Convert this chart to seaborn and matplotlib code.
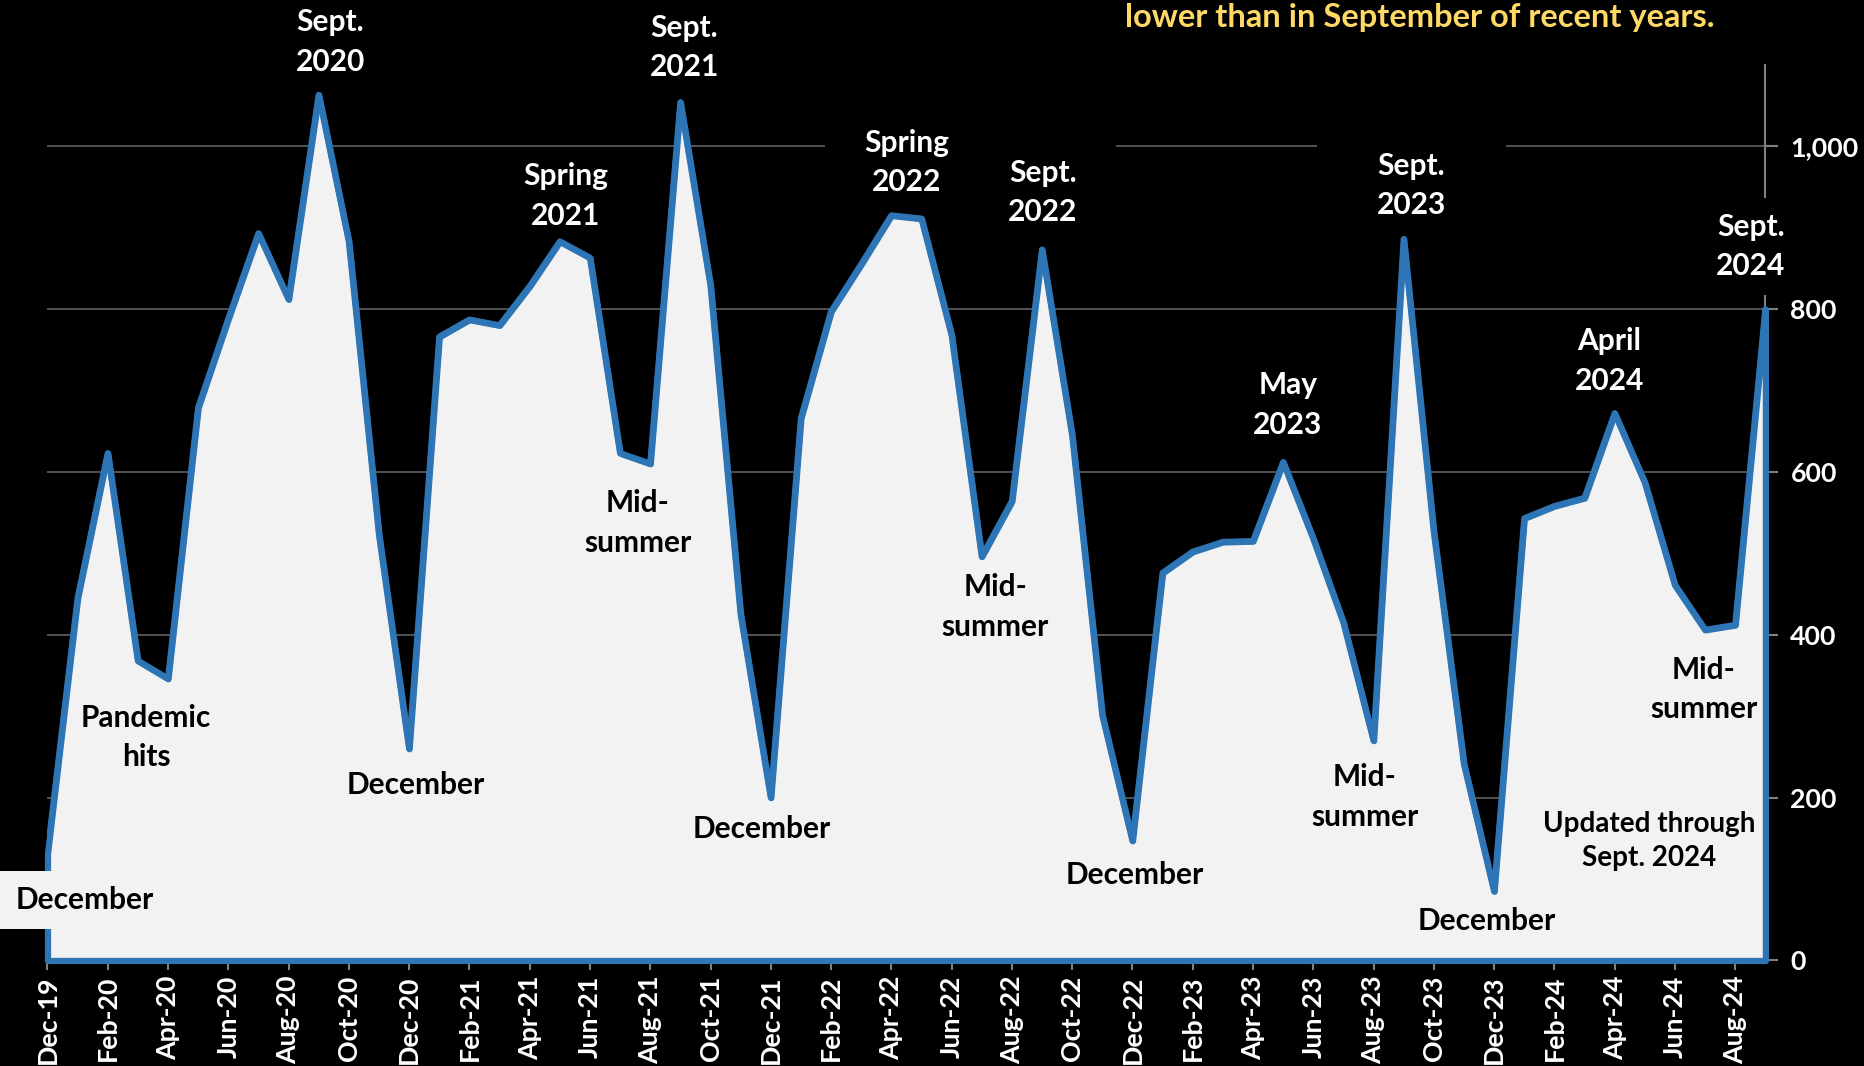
import matplotlib
matplotlib.use("Agg")
import matplotlib.pyplot as plt
import numpy as np
import pandas as pd
import seaborn as sns

# Monthly values, Dec 2019 through Sept 2024
months = pd.date_range("2019-12-01", "2024-09-01", freq="MS")
values = [
    131, 445, 623, 368, 346, 679, 788, 893, 812, 1063, 883, 523,   # Dec-19 .. Nov-20
    260, 766, 787, 780, 828, 883, 863, 623, 610, 1054, 829, 425,   # Dec-20 .. Nov-21
    200, 666, 797, 855, 915, 911, 768, 496, 564, 873, 645, 301,    # Dec-21 .. Nov-22
    147, 476, 502, 514, 515, 612, 518, 415, 270, 886, 526, 241,    # Dec-22 .. Nov-23
    85, 543, 558, 568, 672, 587, 461, 406, 412, 800,               # Dec-23 .. Sep-24
]
y_ticks = [0, 200, 400, 600, 800, 1000]
y_tick_labels = ["0", "200", "400", "600", "800", "1,000"]
title_line = "lower than in September of recent years."

# Annotations: (text, month index, value)
labels_white = [
    ("Sept.\n2020", 9.38, 1128),
    ("Spring\n2021", 17.19, 939),
    ("Sept.\n2021", 21.13, 1121),
    ("May\n2023", 41.15, 682),
    ("April\n2024", 51.83, 736),
]
labels_white_boxed = [
    ("Spring\n2022", 28.50, 980, 1.3),
    ("Sept.\n2022", 33.03, 943, 1.3),
    ("Sept.\n2023", 45.25, 952, 2.0),
    ("Sept.\n2024", 56.52, 877, 0.5),
]
labels_dark = [
    ("Pandemic\nhits", 3.27, 274),
    ("December", 12.22, 216),
    ("Mid-\nsummer", 19.59, 537),
    ("December", 23.69, 162),
    ("Mid-\nsummer", 31.45, 434),
    ("December", 36.07, 105),
    ("Mid-\nsummer", 43.71, 201),
    ("December", 47.77, 48),
    ("Mid-\nsummer", 54.95, 333),
]
note_label = ("Updated through\nSept. 2024", 53.13, 147)
first_label = ("December", 1.22, 74)

BLUE = "#2E75B6"
FILL = "#F2F2F2"
GRID = "#595959"
AXIS = "#808080"
GOLD = "#FFD966"

sns.set_theme(style="dark")
plt.rcParams["font.family"] = ["Lato", "DejaVu Sans"]
plt.rcParams["font.weight"] = "bold"

df = pd.DataFrame({"idx": np.arange(len(values)), "value": values})

fig = plt.figure(figsize=(18.64, 10.66), dpi=100, facecolor="black")
ax = fig.add_axes([0.02548, 0.0990, 0.92162, 0.8402])
ax.set_facecolor("black")

ax.fill_between(df["idx"], 0, df["value"], facecolor=FILL, edgecolor=BLUE,
                linewidth=4.5, zorder=2, clip_on=False, joinstyle="round")
sns.lineplot(data=df, x="idx", y="value", ax=ax, color=BLUE, linewidth=4.5,
             zorder=3, solid_joinstyle="round", solid_capstyle="round")

ax.set_xlim(0, len(values) - 1)
ax.set_ylim(0, 1100)

tick_pos = np.arange(0, len(values), 2)
ax.set_xticks(tick_pos)
ax.set_xticklabels([months[i].strftime("%b-%y") for i in tick_pos],
                   rotation=90, color="white", fontsize=19.3, fontweight="bold")
ax.yaxis.tick_right()
ax.set_yticks(y_ticks)
ax.set_yticklabels(y_tick_labels, color="white", fontsize=19.3, fontweight="bold")
ax.tick_params(axis="x", direction="out", length=7, width=1.5, color=AXIS, pad=4, bottom=True)
ax.tick_params(axis="y", direction="out", length=9, width=1.5, color=AXIS, pad=9, right=True, left=False)
ax.set_xlabel("")
ax.set_ylabel("")

ax.grid(False)
ax.yaxis.grid(True, color=GRID, linewidth=1.3, zorder=0.5)
ax.set_axisbelow(True)
for side in ["left", "top"]:
    ax.spines[side].set_visible(False)
ax.spines["right"].set_color(AXIS)
ax.spines["right"].set_linewidth(1.5)
ax.spines["right"].set_zorder(0.8)
ax.spines["bottom"].set_color(AXIS)
ax.spines["bottom"].set_linewidth(1.5)
ax.spines["bottom"].set_zorder(0.8)

FS = 21.5
LS = 1.5
for text, xd, yd in labels_white:
    ax.text(xd, yd, text, color="white", fontsize=FS, fontweight="bold",
            ha="center", va="center", linespacing=LS, zorder=4, clip_on=False)
for text, xd, yd, pad in labels_white_boxed:
    ax.text(xd, yd, text, color="white", fontsize=FS, fontweight="bold",
            ha="center", va="center", linespacing=LS, zorder=1, clip_on=False,
            bbox=dict(boxstyle=f"square,pad={pad}", facecolor="black", edgecolor="none"))
for text, xd, yd in labels_dark:
    ax.text(xd, yd, text, color="black", fontsize=FS, fontweight="bold",
            ha="center", va="center", linespacing=LS, zorder=4, clip_on=False)
ax.text(note_label[1], note_label[2], note_label[0], color="black", fontsize=20,
        fontweight="bold", ha="center", va="center", linespacing=1.4, zorder=4)
ax.text(first_label[1], first_label[2], first_label[0], color="black", fontsize=FS,
        fontweight="bold", ha="center", va="center", zorder=5, clip_on=False,
        bbox=dict(boxstyle="square,pad=0.5", facecolor=FILL, edgecolor="none"))

fig.text(1420 / 1864, 1 - 17 / 1066, title_line, color=GOLD, fontsize=23.5,
         fontweight="bold", ha="center", va="center")

fig.savefig("out.png", dpi=100, facecolor="black")
